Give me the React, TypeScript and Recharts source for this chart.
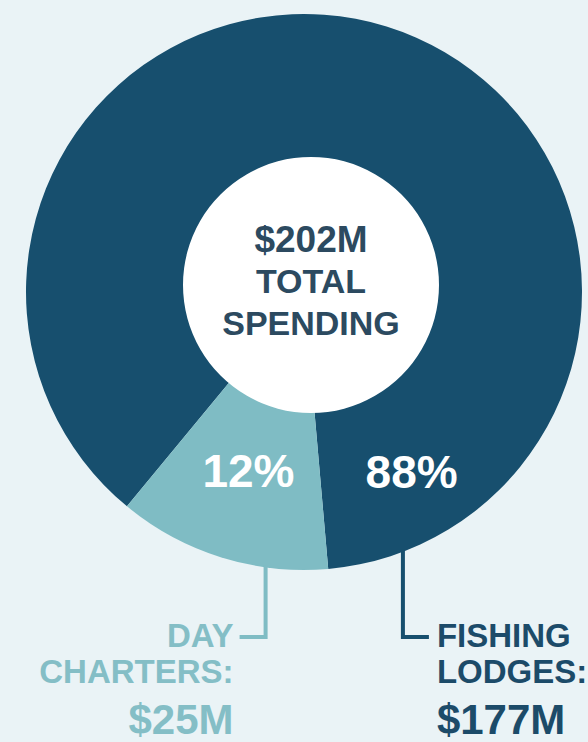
import { Pie, PieChart } from "recharts";

// spending split, $M
const segments = ["Fishing Lodges", "Day Charters"];
const spending = [177, 25];
const labelWords = [
  ["FISHING", "LODGES:"],
  ["DAY", "CHARTERS:"],
];
const amountLabels = ["$177M", "$25M"];
const centerLines = ["$202M", "TOTAL", "SPENDING"];

const DARK = "#174f6e";
const LIGHT = "#7fbcc4";
const BG = "#eaf3f6";
const FONT = "'Liberation Sans', Arial, sans-serif";

const sliceColors = [DARK, LIGHT];
const textColors = ["#1c4b69", "#84bec6"];

const data = segments.map((name, i) => ({
  name,
  value: spending[i],
  fill: sliceColors[i],
}));

const RAD = Math.PI / 180;
const polar = (cx: number, cy: number, r: number, angle: number) => ({
  x: cx + r * Math.cos(-angle * RAD),
  y: cy + r * Math.sin(-angle * RAD),
});

function SliceLabel(props: any) {
  const { cx, cy, outerRadius, startAngle, endAngle, midAngle, percent, index } = props;
  const isLeft = index === 1;

  // percent inside the ring
  const pct = isLeft
    ? polar(cx, cy, 187, midAngle)
    : polar(cx, cy, 209, startAngle + 26);
  const pctSize = 46;

  // leader line from the ring's bottom edge
  const lead = polar(cx, cy, outerRadius - 2, isLeft ? endAngle - 13 : startAngle + 16);
  const cornerY = cy + 345;
  const endX = isLeft ? lead.x - 26 : lead.x + 26;
  const textX = isLeft ? endX - 6 : endX + 8;
  const anchor = isLeft ? "end" : "start";
  const color = textColors[index];

  return (
    <g>
      <text
        x={pct.x}
        y={pct.y + pctSize * 0.36}
        textAnchor="middle"
        fill="#ffffff"
        fontFamily={FONT}
        fontWeight="bold"
        fontSize={pctSize}
      >
        {`${Math.round(percent * 100)}%`}
      </text>
      <path
        d={`M${lead.x},${lead.y} L${lead.x},${cornerY} L${endX},${cornerY}`}
        fill="none"
        stroke={sliceColors[index]}
        strokeWidth={4}
      />
      <text x={textX} y={cornerY + 10} textAnchor={anchor} fill={color} fontFamily={FONT} fontWeight="bold" fontSize={33}>
        {labelWords[index][0]}
      </text>
      <text x={textX} y={cornerY + 46} textAnchor={anchor} fill={color} fontFamily={FONT} fontWeight="bold" fontSize={33}>
        {labelWords[index][1]}
      </text>
      <text x={textX} y={cornerY + 97} textAnchor={anchor} fill={color} fontFamily={FONT} fontWeight="bold" fontSize={42}>
        {amountLabels[index]}
      </text>
    </g>
  );
}

function CenterLabel(props: any) {
  const { cx, cy } = props;
  const offsets = [-33, 8, 50];
  const sizes = [37, 34, 34];
  return (
    <g>
      {centerLines.map((line, i) => (
        <text
          key={line}
          x={cx}
          y={cy + offsets[i]}
          textAnchor="middle"
          fill="#2c4a60"
          fontFamily={FONT}
          fontWeight="bold"
          fontSize={sizes[i]}
        >
          {line}
        </text>
      ))}
    </g>
  );
}

export default function App() {
  return (
    <div style={{ position: "fixed", left: 0, top: 0, width: 588, height: 742, background: BG, overflow: "hidden" }}>
      <PieChart width={588} height={742} margin={{ top: 0, right: 0, bottom: 0, left: 0 }}>
        <Pie
          data={data}
          dataKey="value"
          nameKey="name"
          cx={304}
          cy={292}
          innerRadius={0}
          outerRadius={278}
          startAngle={-85}
          endAngle={275}
          stroke="none"
          label={SliceLabel}
          labelLine={false}
          isAnimationActive={false}
        />
        <Pie
          data={[{ name: "total", value: 1 }]}
          dataKey="value"
          cx={311}
          cy={285}
          innerRadius={0}
          outerRadius={128}
          fill="#ffffff"
          stroke="none"
          label={CenterLabel}
          labelLine={false}
          isAnimationActive={false}
        />
      </PieChart>
    </div>
  );
}
